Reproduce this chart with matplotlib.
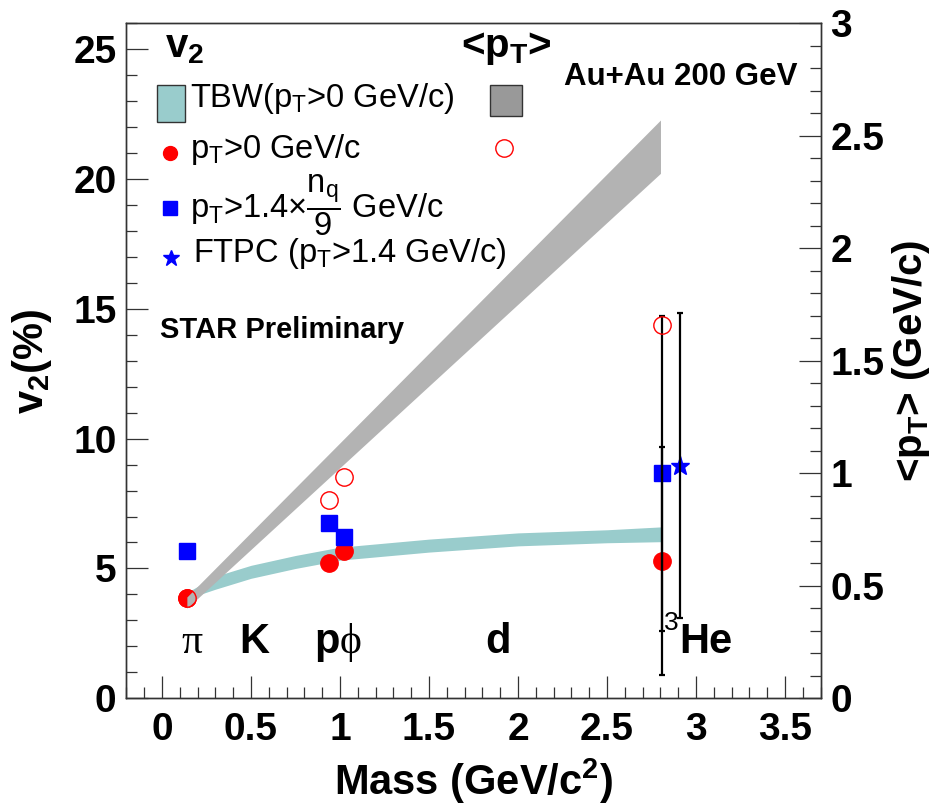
import numpy as np
import matplotlib
matplotlib.use("Agg")
import matplotlib.pyplot as plt
from matplotlib.patches import Rectangle
from matplotlib.ticker import MultipleLocator

plt.rcParams.update({
    "font.family": ["Liberation Sans", "DejaVu Sans"],
    "mathtext.fontset": "custom",
    "mathtext.rm": "Liberation Sans",
    "mathtext.it": "Liberation Sans:italic",
    "mathtext.bf": "Liberation Sans:bold",
})

C_TEAL = "#99cccc"
C_GRAY = "#b3b3b3"
C_GRAY_KEY = "#999999"
C_AXIS = "#333333"

# ── data ────────────────────────────────────────────────────────────────────
# masses (GeV/c^2) of pi, p, phi, 3He
mass = [0.14, 0.94, 1.02, 2.81]

# v2 (%) integrated over pT > 0
v2_all = [3.85, 5.22, 5.68, 5.29]
v2_all_err = [0.0, 0.0, 0.0, 4.40]

# v2 (%) for pT > 1.4 x nq/9 GeV/c
v2_nq = [5.68, 6.74, 6.22, 8.66]
v2_nq_err = [0.0, 0.0, 0.0, 6.07]

# FTPC 3He, pT > 1.4 GeV/c (shifted in mass for visibility)
ftpc_mass = [2.91]
ftpc_v2 = [8.96]
ftpc_err = [5.87]

# <pT> (GeV/c)
mean_pt = [0.445, 0.881, 0.985, 1.658]

# TBW v2 band (%)
tbw_mass = [0.14, 0.30, 0.50, 0.75, 1.00, 1.50, 2.00, 2.50, 2.80]
tbw_v2_lo = [3.83, 4.20, 4.62, 5.00, 5.32, 5.63, 5.87, 5.99, 6.03]
tbw_v2_hi = [4.07, 4.70, 5.12, 5.50, 5.82, 6.13, 6.37, 6.49, 6.60]

# TBW <pT> band (GeV/c)
tbw_pt_mass = [0.14, 2.80]
tbw_pt_lo = [0.40, 2.333]
tbw_pt_hi = [0.45, 2.57]

# particle names along the bottom
name_mass = [0.17, 0.52, 1.0, 1.0, 1.89, 2.906]
name_text = ["π", "K", "p", "ϕ", "d", "He"]
name_ha = ["center", "center", "right", "left", "center", "left"]
name_serif = [True, False, False, True, False, False]
name_y = 1.76

# ── figure ──────────────────────────────────────────────────────────────────
fig = plt.figure(figsize=(9.52, 8.05), dpi=100)
ax = fig.add_axes([0.1327, 0.1326, 0.7294, 0.8385])
ax2 = ax.twinx()

ax.set_xlim(-0.2, 3.7)
ax.set_ylim(0, 26)
ax2.set_ylim(0, 3)

# TBW v2 band
ax.fill_between(tbw_mass, tbw_v2_lo, tbw_v2_hi, color=C_TEAL, lw=0, zorder=1)

# v2 points
ax.plot(mass, v2_all, "o", color="red", ms=12.5, zorder=3)
ax.plot(mass, v2_nq, "s", color="blue", ms=11.5, zorder=3)
ax.plot(ftpc_mass, ftpc_v2, "*", color="blue", ms=14, zorder=3)

# error bars (only 3He carries a visible one)
eb = dict(fmt="none", ecolor="black", elinewidth=1.6, capsize=2.5, capthick=1.6, zorder=4)
for m, v, e in zip(mass, v2_all, v2_all_err):
    if e > 0:
        ax.errorbar(m, v, yerr=e, **eb)
for m, v, e in zip(mass, v2_nq, v2_nq_err):
    if e > 0:
        ax.errorbar(m, v, yerr=e, **eb)
ax.errorbar(ftpc_mass, ftpc_v2, yerr=ftpc_err, **eb)

# <pT> on the right-hand axis
ax2.fill_between(tbw_pt_mass, tbw_pt_lo, tbw_pt_hi, color=C_GRAY, lw=0, zorder=1)
ax2.plot(mass, mean_pt, "o", mfc="none", mec="red", mew=1.0, ms=12.5, zorder=3)

# ── axes styling ────────────────────────────────────────────────────────────
for a in (ax, ax2):
    for sp in a.spines.values():
        sp.set_color(C_AXIS)
        sp.set_linewidth(1.0)

ax.xaxis.set_major_locator(MultipleLocator(0.5))
ax.xaxis.set_minor_locator(MultipleLocator(0.1))
ax.yaxis.set_major_locator(MultipleLocator(5))
ax.yaxis.set_minor_locator(MultipleLocator(1))
ax2.yaxis.set_major_locator(MultipleLocator(0.5))
ax2.yaxis.set_minor_locator(MultipleLocator(0.1))

ax.set_xticks([0, 0.5, 1, 1.5, 2, 2.5, 3, 3.5])
ax.set_xticklabels(["0", "0.5", "1", "1.5", "2", "2.5", "3", "3.5"])
ax2.set_yticks([0, 0.5, 1, 1.5, 2, 2.5, 3])
ax2.set_yticklabels(["0", "0.5", "1", "1.5", "2", "2.5", "3"])

ax.tick_params(which="both", direction="in", top=False, right=False,
               color=C_AXIS, width=0.9, labelsize=28)
ax.tick_params(which="major", length=16)
ax.tick_params(which="minor", length=8)
ax.tick_params(axis="x", pad=10)
ax.tick_params(axis="y", pad=7)
ax2.tick_params(which="both", direction="in", color=C_AXIS, width=0.9,
                labelsize=28, pad=7)
ax2.tick_params(which="major", length=16)
ax2.tick_params(which="minor", length=8)
for lab in ax.get_xticklabels() + ax.get_yticklabels() + ax2.get_yticklabels():
    lab.set_fontweight("bold")

ax.set_xlabel(r"Mass (GeV/c$^\mathbf{2}$)", fontsize=30, fontweight="bold", labelpad=6)
ax.set_ylabel(r"v$_\mathbf{2}$(%)", fontsize=30, fontweight="bold", labelpad=14)
ax2.set_ylabel(r"<p$_\mathbf{T}$> (GeV/c)", fontsize=29, fontweight="bold", labelpad=4)

# particle names
for m, t, ha, serif in zip(name_mass, name_text, name_ha, name_serif):
    if serif:
        ax.text(m, name_y, t, ha=ha, va="baseline", fontsize=30,
                family=["Liberation Serif", "DejaVu Serif"], zorder=5)
    else:
        ax.text(m, name_y, t, ha=ha, va="baseline", fontsize=30,
                fontweight="bold", zorder=5)
ax.text(2.858, 2.63, "3", ha="center", va="baseline", fontsize=19, zorder=5)

# ── legend, drawn by hand in axes fraction ──────────────────────────────────
tr = ax.transAxes
ax.text(0.056, 0.950, r"v$_\mathbf{2}$", transform=tr, fontsize=29, fontweight="bold")
ax.text(0.482, 0.950, r"<p$_\mathbf{T}$>", transform=tr, fontsize=29, fontweight="bold")

ax.add_patch(Rectangle((0.0438, 0.8542), 0.0407, 0.0544, transform=tr,
                       facecolor=C_TEAL, edgecolor=C_AXIS, lw=1.0, clip_on=False, zorder=5))
ax.add_patch(Rectangle((0.5238, 0.8632), 0.0457, 0.0454, transform=tr,
                       facecolor=C_GRAY_KEY, edgecolor=C_AXIS, lw=1.0, clip_on=False, zorder=5))
ax.plot([0.0629], [0.8083], "o", color="red", ms=10, transform=tr, clip_on=False, zorder=5)
ax.plot([0.0629], [0.7259], "s", color="blue", ms=9.5, transform=tr, clip_on=False, zorder=5)
ax.plot([0.0640], [0.6519], "*", color="blue", ms=12, transform=tr, clip_on=False, zorder=5)
ax2.plot([0.5444], [0.8157], "o", mfc="none", mec="red", mew=1.0, ms=12.5,
         transform=ax2.transAxes, clip_on=False, zorder=5)

ax.text(0.0917, 0.8764, r"TBW(p$_\mathrm{T}$>0 GeV/c)", transform=tr, fontsize=23.5, va="baseline")
ax.text(0.0917, 0.8000, r"p$_\mathrm{T}$>0 GeV/c", transform=tr, fontsize=23.5, va="baseline")
ax.text(0.0917, 0.7111, r"p$_\mathrm{T}$>1.4$\times\dfrac{\mathrm{n}_\mathrm{q}}{\mathrm{9}}$ GeV/c",
        transform=tr, fontsize=23.5, va="baseline")
ax.text(0.0965, 0.6468, r"FTPC (p$_\mathrm{T}$>1.4 GeV/c)", transform=tr, fontsize=23.5, va="baseline")

ax.text(0.967, 0.9086, "Au+Au 200 GeV", transform=tr, fontsize=22.5, fontweight="bold",
        ha="right", va="baseline")
ax.text(0.049, 0.534, "STAR Preliminary", transform=tr, fontsize=21, fontweight="bold",
        va="baseline")

fig.savefig("out.png", dpi=100)
